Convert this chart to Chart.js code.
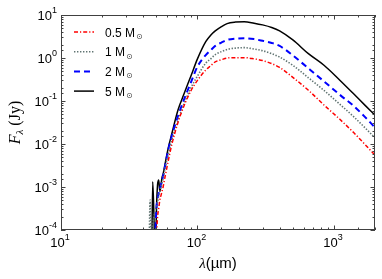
<!DOCTYPE html>
<html>
<head>
<meta charset="utf-8">
<script src="https://cdn.jsdelivr.net/npm/chart.js@4.4.0/dist/chart.umd.min.js"></script>
<style>
body { margin: 0; background: #fff; }
#wrap { width: 382px; height: 279px; position: relative; }
</style>
</head>
<body>
<div id="wrap"><canvas id="canvas"></canvas></div>
<script>
// wavelength grid (micron)
var wavelengths = [44, 45, 46, 47, 48, 49, 50, 51, 52, 53, 54, 55, 56, 58, 61, 65, 72, 80, 90, 100,
    115, 125, 135, 150, 165, 190, 220, 260, 300, 350, 400, 500, 650, 850, 1100, 1400, 1700, 2000];

// flux density (Jy); 1e-5 means below the axis
var flux05 = [1e-5, 1e-5, 1e-5, 1e-5, 1e-5, 1e-5, 6.3e-5, 0.0002, 0.000316, 0.0005, 0.00063, 0.00079, 0.001,
    0.00178, 0.00398, 0.01, 0.0316, 0.0794, 0.178, 0.302,
    0.525, 0.66, 0.813, 0.912, 1.0, 1.02, 1.02, 0.955, 0.871, 0.741, 0.603, 0.355,
    0.178, 0.0794, 0.038, 0.0182, 0.00955, 0.0055];
var flux1 = [1e-5, 0.0005, 1e-5, 0.0001, 0.0002, 0.00028, 0.000355, 0.000447, 0.00063, 0.00079, 0.001, 0.00126, 0.00158,
    0.00282, 0.00562, 0.0126, 0.0355, 0.0891, 0.209, 0.38,
    0.759, 0.955, 1.20, 1.41, 1.58, 1.70, 1.74, 1.62, 1.48, 1.26, 1.05, 0.676,
    0.347, 0.174, 0.0851, 0.0427, 0.0234, 0.0138];
var flux2 = [1e-5, 1e-5, 1e-5, 1e-5, 1e-5, 6.3e-5, 0.000316, 0.0005, 0.00071, 0.00089, 0.00112, 0.00141, 0.00178,
    0.00316, 0.00708, 0.0158, 0.0447, 0.112, 0.282, 0.631,
    1.17, 1.51, 1.91, 2.29, 2.63, 2.82, 2.88, 2.75, 2.51, 2.24, 1.91, 1.15,
    0.575, 0.282, 0.141, 0.0759, 0.0417, 0.024];
var flux5 = [1e-5, 1e-5, 1e-5, 0.00132, 0.0002, 1e-5, 0.00025, 0.00112, 0.00145, 0.00079, 0.00112, 0.00166, 0.002,
    0.00355, 0.0079, 0.0178, 0.0617, 0.151, 0.398, 0.955,
    2.40, 3.39, 4.27, 5.37, 6.31, 6.84, 7.0, 6.46, 5.89, 5.13, 4.27, 2.63,
    1.26, 0.668, 0.309, 0.145, 0.078, 0.047];

var massLabels = ['0.5', '1', '2', '5'];
var xTickPowers = [1, 2, 3];
var yTickPowers = [-4, -3, -2, -1, 0, 1];

function toPoints(list){
    return wavelengths.map((w, i) => ({x: w, y: list[i]}));
}

function isPow10(v){
    var l = Math.log10(v);
    return Math.abs(l - Math.round(l)) < 1e-9;
}

// frame, inward ticks, power-of-ten labels, axis titles and legend
var axisDecor = {
    id: 'axisDecor',
    afterDatasetsDraw(chart){
        var ctx = chart.ctx, a = chart.chartArea;
        var xs = chart.scales.x, ys = chart.scales.y;
        ctx.save();
        ctx.strokeStyle = '#404040';
        ctx.lineWidth = 1;
        ctx.setLineDash([]);
        ctx.strokeRect(a.left + 0.5, a.top + 0.5, a.right - a.left - 1, a.bottom - a.top - 1);

        ctx.beginPath();
        for (var t of xs.ticks){
            var px = Math.round(xs.getPixelForValue(t.value)) + 0.5;
            var len = isPow10(t.value) ? 4.5 : 2.5;
            ctx.moveTo(px, a.bottom); ctx.lineTo(px, a.bottom - len);
            ctx.moveTo(px, a.top); ctx.lineTo(px, a.top + len);
        }
        for (var t of ys.ticks){
            var py = Math.round(ys.getPixelForValue(t.value)) + 0.5;
            var len = isPow10(t.value) ? 4.5 : 2.5;
            ctx.moveTo(a.left, py); ctx.lineTo(a.left + len, py);
            ctx.moveTo(a.right, py); ctx.lineTo(a.right - len, py);
        }
        ctx.stroke();

        // tick labels
        ctx.fillStyle = '#000';
        ctx.textBaseline = 'alphabetic';
        var bigFont = '13px "Liberation Sans", Arial, sans-serif';
        var smallFont = '9px "Liberation Sans", Arial, sans-serif';
        for (var p of xTickPowers){
            var px = xs.getPixelForValue(Math.pow(10, p));
            ctx.font = bigFont;
            var w1 = ctx.measureText('10').width;
            ctx.font = smallFont;
            var w2 = ctx.measureText(String(p)).width;
            var start = px - (w1 + w2) / 2 - 1;
            ctx.textAlign = 'left';
            ctx.font = bigFont;
            ctx.fillText('10', start, a.bottom + 17);
            ctx.font = smallFont;
            ctx.fillText(String(p), start + w1, a.bottom + 10);
        }
        for (var p of yTickPowers){
            var py = ys.getPixelForValue(Math.pow(10, p));
            var ex = p < 0 ? '-' + (-p) : String(p);
            ctx.textAlign = 'right';
            ctx.font = smallFont;
            var w2 = ctx.measureText(ex).width;
            ctx.fillText(ex, 57, py - 2);
            ctx.font = bigFont;
            ctx.fillText('10', 57 - w2, py + 4.5);
        }

        // x title
        ctx.textAlign = 'left';
        var lamFont = 'italic 15px "Liberation Serif", "Times New Roman", serif';
        var unitFont = '15px "Liberation Sans", Arial, sans-serif';
        ctx.font = lamFont;
        var wl = ctx.measureText('λ').width;
        ctx.font = unitFont;
        var wu = ctx.measureText('(µm)').width;
        var xc = (a.left + a.right) / 2;
        var xstart = xc - (wl + wu) / 2;
        ctx.font = lamFont;
        ctx.fillText('λ', xstart, 268);
        ctx.font = unitFont;
        ctx.fillText('(µm)', xstart + wl, 268);

        // y title
        ctx.save();
        ctx.translate(20, (a.top + a.bottom) / 2);
        ctx.rotate(-Math.PI / 2);
        var fFont = 'italic 16px "Liberation Serif", "Times New Roman", serif';
        var subFont = 'italic 11px "Liberation Serif", "Times New Roman", serif';
        var jyFont = '16px "Liberation Serif", "Times New Roman", serif';
        ctx.font = fFont; var wf = ctx.measureText('F').width;
        ctx.font = subFont; var ws = ctx.measureText('λ').width;
        ctx.font = jyFont; var wj = ctx.measureText(' (Jy)').width;
        var ys0 = -(wf + ws + wj) / 2;
        ctx.font = fFont; ctx.fillText('F', ys0, 0);
        ctx.font = subFont; ctx.fillText('λ', ys0 + wf, 3);
        ctx.font = jyFont; ctx.fillText(' (Jy)', ys0 + wf + ws, 0);
        ctx.restore();

        // legend
        var datasets = chart.data.datasets;
        for (var i = 0; i < datasets.length; i++){
            var ds = datasets[i];
            var ly = 32 + i * 19.7;
            ctx.beginPath();
            ctx.strokeStyle = ds.borderColor;
            ctx.lineWidth = ds.borderWidth;
            ctx.setLineDash(ds.borderDash || []);
            ctx.moveTo(74, ly); ctx.lineTo(94, ly);
            ctx.stroke();
            ctx.setLineDash([]);
            ctx.fillStyle = '#000';
            ctx.textAlign = 'left';
            ctx.font = '12px "Liberation Sans", Arial, sans-serif';
            var txt = massLabels[i] + ' M';
            ctx.fillText(txt, 105, ly + 4.5);
            var tw = ctx.measureText(txt).width;
            ctx.font = '8px "DejaVu Sans", sans-serif';
            ctx.fillStyle = '#444';
            ctx.fillText('⊙', 105 + tw + 1, ly + 7);
        }
        ctx.restore();
    }
};

var ctx = document.getElementById('canvas').getContext('2d');
var chart = new Chart(ctx, {
    type: 'line',
    data: {
        datasets: [
            {label: massLabels[0] + ' M⊙', data: toPoints(flux05), borderColor: '#ff0000', borderWidth: 1.5, borderDash: [4, 2, 1.2, 2]},
            {label: massLabels[1] + ' M⊙', data: toPoints(flux1), borderColor: '#607472', borderWidth: 1.6, borderDash: [1.4, 1.6]},
            {label: massLabels[2] + ' M⊙', data: toPoints(flux2), borderColor: '#0000ff', borderWidth: 2, borderDash: [6, 4]},
            {label: massLabels[3] + ' M⊙', data: toPoints(flux5), borderColor: '#000000', borderWidth: 1.5}
        ]
    },
    options: {
        responsive: true,
        maintainAspectRatio: false,
        animation: false,
        layout: { padding: { top: 15, right: 7, left: 0, bottom: 0 } },
        elements: {
            point: { radius: 0 },
            line: { cubicInterpolationMode: 'monotone', fill: false }
        },
        plugins: {
            legend: { display: false },
            tooltip: { enabled: false }
        },
        scales: {
            x: {
                type: 'logarithmic',
                min: 10,
                max: 2000,
                grid: { display: false },
                border: { display: false },
                ticks: { display: false, autoSkip: false },
                afterFit: function(s){ s.height = 49; }
            },
            y: {
                type: 'logarithmic',
                min: 1e-4,
                max: 10,
                grid: { display: false },
                border: { display: false },
                ticks: { display: false, autoSkip: false },
                afterFit: function(s){ s.width = 61; }
            }
        }
    },
    plugins: [axisDecor]
});
</script>
</body>
</html>
